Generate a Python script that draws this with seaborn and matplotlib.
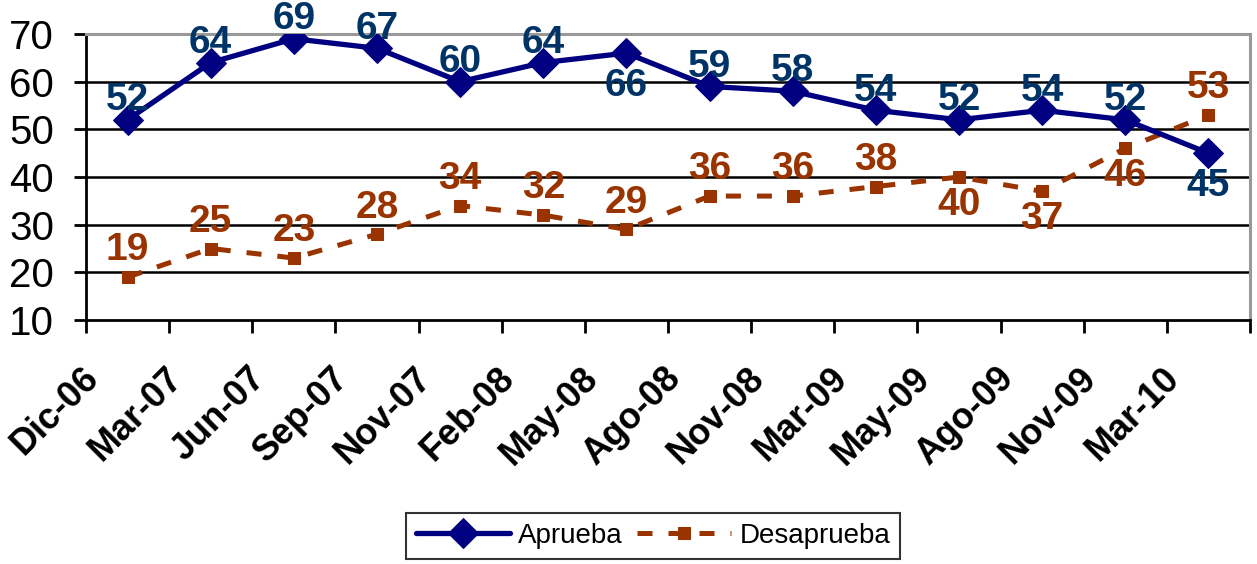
import matplotlib
matplotlib.use("Agg")
import matplotlib.pyplot as plt
from matplotlib.transforms import ScaledTranslation
import seaborn as sns
import pandas as pd
import numpy as np

categories = ["Dic-06", "Mar-07", "Jun-07", "Sep-07", "Nov-07", "Feb-08", "May-08",
              "Ago-08", "Nov-08", "Mar-09", "May-09", "Ago-09", "Nov-09", "Mar-10"]
aprueba = [52, 64, 69, 67, 60, 64, 66, 59, 58, 54, 52, 54, 52, 45]
desaprueba = [19, 25, 23, 28, 34, 32, 29, 36, 36, 38, 40, 37, 46, 53]
aprueba_below = [6, 13]
desaprueba_below = [10, 11, 12]
yticks = [10, 20, 30, 40, 50, 60, 70]

sns.set_theme(style="white")
plt.rcParams['font.family'] = ['Liberation Sans', 'DejaVu Sans']
plt.rcParams.update({"text.color": "black", "xtick.color": "black", "ytick.color": "black",
                     "axes.labelcolor": "black"})

fig = plt.figure(figsize=(12.57, 5.64), dpi=100)
ax = fig.add_axes([86/1257, 1-320/564, (1250-86)/1257, (320-34)/564])

pos = np.arange(len(categories))
df = pd.DataFrame({"pos": pos, "Aprueba": aprueba, "Desaprueba": desaprueba})

navy = "#000080"
brown = "#993300"
sns.lineplot(data=df, x="pos", y="Aprueba", ax=ax, color=navy, lw=3.8, marker="D",
             markersize=15, markeredgecolor=navy, label="Aprueba", zorder=4)
sns.lineplot(data=df, x="pos", y="Desaprueba", ax=ax, color=brown, lw=3.6, marker="s",
             markersize=9, markeredgecolor=brown, label="Desaprueba", zorder=3,
             dashes=False)
ax.lines[-1].set_dashes([3, 3.2])

lab_fs = 28
for i, v in enumerate(aprueba):
    below = i in aprueba_below
    ax.annotate(str(v), (pos[i], v), xytext=(0, -11 if below else 7), textcoords="offset points",
                ha="center", va="top" if below else "baseline", fontsize=lab_fs, fontweight="bold",
                color="#003366", zorder=5, annotation_clip=False)
for i, v in enumerate(desaprueba):
    below = i in desaprueba_below
    ax.annotate(str(v), (pos[i], v), xytext=(0, -7 if below else 12), textcoords="offset points",
                ha="center", va="top" if below else "baseline", fontsize=lab_fs, fontweight="bold",
                color=brown, zorder=5, annotation_clip=False)

ax.set_xlim(-0.5, len(categories) - 0.5)
ax.set_ylim(10, 70)
ax.set_yticks(yticks)
ax.set_yticklabels([str(t) for t in yticks], fontsize=29)
ax.set_xticks(pos)
ax.set_xticklabels(categories, rotation=45, ha="right", va="center", rotation_mode="anchor",
                   fontsize=26, fontweight="bold")
ax.set_xticks(np.arange(len(categories) + 1) - 0.5, minor=True)
ax.tick_params(axis="x", which="major", length=0, pad=0, labelcolor="black")
ax.tick_params(axis="x", which="minor", length=9, width=2, color="black", direction="out", bottom=True)
ax.tick_params(axis="y", which="major", length=9, width=2, color="black", direction="out", left=True,
               pad=14, labelcolor="black")
off = ScaledTranslation(-34/100, -53/100, fig.dpi_scale_trans)
for lbl in ax.get_xticklabels():
    lbl.set_transform(lbl.get_transform() + off)
ax.set_xlabel("")
ax.set_ylabel("")

ax.grid(False)
for t in yticks[1:-1]:
    ax.axhline(t, color="black", lw=1.8, zorder=1)
for s in ["left", "bottom"]:
    ax.spines[s].set_color("black")
    ax.spines[s].set_linewidth(2)
for s in ["top", "right"]:
    ax.spines[s].set_color("#999999")
    ax.spines[s].set_linewidth(2.2)

ax.get_legend().remove()
handles, labels = ax.get_legend_handles_labels()
leg = fig.legend(handles, labels, loc="center", bbox_to_anchor=(653/1257, 1-536/564), ncol=2,
                 fontsize=20, frameon=True, fancybox=False, edgecolor="black",
                 handlelength=3.4, columnspacing=0.5, handletextpad=0.3, borderpad=0.35)
leg.get_frame().set_linewidth(1.5)
for t in leg.get_texts():
    t.set_color("black")

fig.savefig("out.png", dpi=100)
